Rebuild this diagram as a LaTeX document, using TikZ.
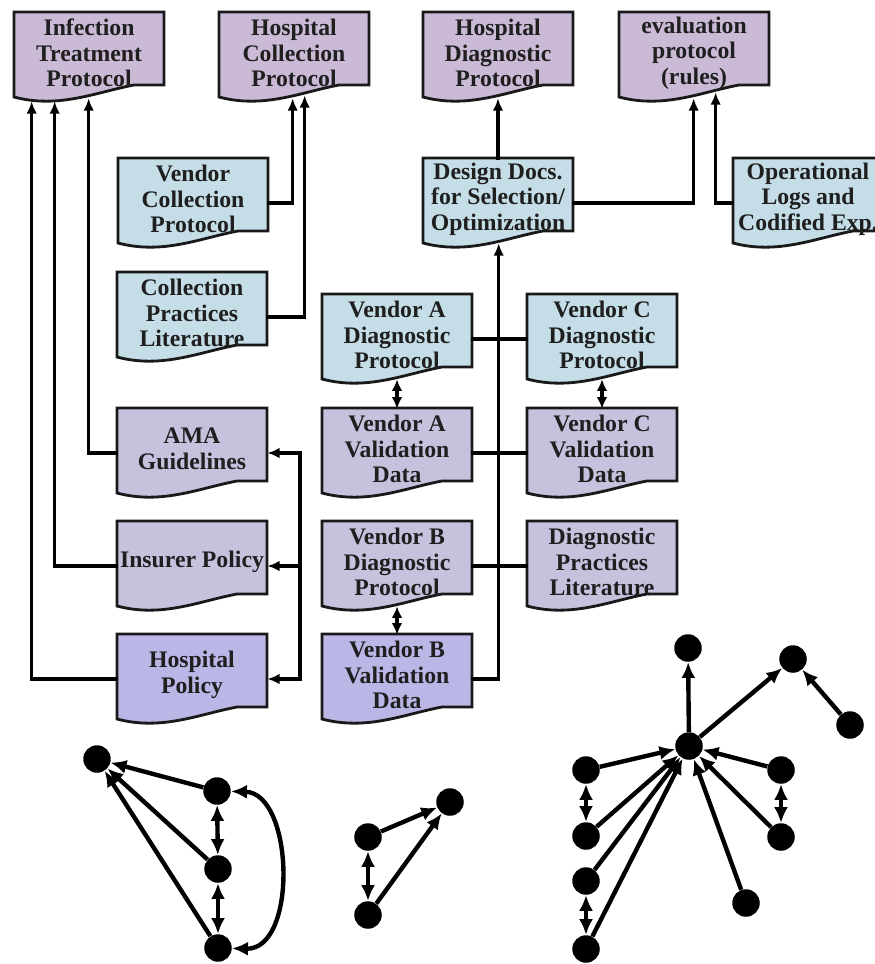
\documentclass[tikz,border=0pt]{standalone}
\usepackage{fontspec}
\setmainfont{Liberation Serif}
\usetikzlibrary{arrows.meta,calc}

\definecolor{cMauve}{RGB}{202,186,214}
\definecolor{cBlue}{RGB}{196,221,230}
\definecolor{cGray}{RGB}{198,194,222}
\definecolor{cLav}{RGB}{186,182,230}

\tikzset{
  px/.style={x=0.02cm,y=-0.02cm},
  docline/.style={draw=black!90, line width=1.6pt, line join=miter},
  doctext/.style={draw=none, minimum width=3cm, minimum height=1.6cm, inner sep=0pt,
    align=center, font=\bfseries\fontsize{13.5}{14.5}\selectfont, text=black!88},
  conn/.style={line width=2pt, line cap=rect},
  arr/.style={conn, -{Latex[length=7pt,width=6pt]}},
  darr/.style={line width=2pt, {Latex[length=6.5pt,width=6pt]}-{Latex[length=6.5pt,width=6pt]}},
  gnode/.style={circle, fill=black, minimum size=0.55cm, inner sep=0pt},
  gedge/.style={line width=2.5pt, -{Latex[length=9pt,width=8pt]}},
  gdbl/.style={line width=2.5pt, {Latex[length=9pt,width=8pt]}-{Latex[length=9pt,width=8pt]}},
}

% document symbol: #1 name, #2 left x, #3 top y, #4 fill, #5 text
\newcommand{\docbox}[5]{%
  \filldraw[docline, fill=#4] (#2,#3) -- ({#2+150},#3) -- ({#2+150},{#3+73}) -- ({#2+120},{#3+73})
    .. controls ({#2+82.5},{#3+80}) and ({#2+45},{#3+97}) .. (#2,{#3+85}) -- cycle;
  \node[doctext] (#1) at ({#2+75},{#3+41}) {#5};
}

\begin{document}
\begin{tikzpicture}[px]
\useasboundingbox (0,0) rectangle (875,964);

% documents
\docbox{ITP}{14}{12}{cMauve}{Infection\\Treatment\\Protocol}
\docbox{HCP}{219}{12}{cMauve}{Hospital\\Collection\\Protocol}
\docbox{HDP}{423}{12}{cMauve}{Hospital\\Diagnostic\\Protocol}
\docbox{EPR}{619}{12}{cMauve}{evaluation\\protocol\\(rules)}
\docbox{VCP}{118}{158}{cBlue}{Vendor\\Collection\\Protocol}
\docbox{DDS}{423}{158}{cBlue}{Design Docs.\\for Selection/\\Optimization}
\docbox{OLC}{733}{158}{cBlue}{Operational\\Logs and\\Codified Exp.}
\docbox{CPL}{117}{272}{cBlue}{Collection\\Practices\\Literature}
\docbox{VADP}{322}{294}{cBlue}{Vendor A\\Diagnostic\\Protocol}
\docbox{VCDP}{527}{294}{cBlue}{Vendor C\\Diagnostic\\Protocol}
\docbox{AMA}{117}{408}{cGray}{AMA\\Guidelines}
\docbox{VAVD}{322}{408}{cGray}{Vendor A\\Validation\\Data}
\docbox{VCVD}{527}{408}{cGray}{Vendor C\\Validation\\Data}
\docbox{INS}{117}{521}{cGray}{Insurer Policy}
\docbox{VBDP}{322}{521}{cGray}{Vendor B\\Diagnostic\\Protocol}
\docbox{DPL}{527}{521}{cGray}{Diagnostic\\Practices\\Literature}
\docbox{HPOL}{117}{634}{cLav}{Hospital\\Policy}
\docbox{VBVD}{322}{634}{cLav}{Vendor B\\Validation\\Data}

% inputs of the infection treatment protocol
\draw[arr] ([yshift=-0.8mm]HPOL.west) -| ($(ITP.south west)+(18,8)$);
\draw[arr] ([yshift=-0.8mm]INS.west) -| ($(ITP.south west)+(41,8)$);
\draw[arr] ([yshift=-0.8mm]AMA.west) -| ($(ITP.south west)+(75,5)$);

% inputs of the hospital collection protocol
\draw[arr] ([yshift=-0.8mm]VCP.east) -| ($(HCP.south west)+(74,5)$);
\draw[arr] ([yshift=-0.8mm]CPL.east) -| ($(HCP.south west)+(86,2)$);

% hospital diagnostic protocol and evaluation protocol
\draw[arr] (DDS.north) -- ($(HDP.south)+(0,5)$);
\draw[arr] ([yshift=-0.8mm]DDS.east) -| ($(EPR.south west)+(75,5)$);
\draw[arr] ([yshift=-0.8mm]OLC.west) -| ($(EPR.south west)+(97,-1)$);

% trunk feeding the design documents
\draw[arr] ([yshift=-0.8mm]VBVD.east) -| ($(DDS.south west)+(76,4)$);
\draw[conn] ([yshift=-0.8mm]VADP.east) -- ([yshift=-0.8mm]VCDP.west);
\draw[conn] ([yshift=-0.8mm]VAVD.east) -- ([yshift=-0.8mm]VCVD.west);
\draw[conn] ([yshift=-0.8mm]VBDP.east) -- ([yshift=-0.8mm]DPL.west);

% protocol / validation pairs
\draw[darr] ($(VADP.south)+(0,4)$) -- (VAVD.north);
\draw[darr] ($(VCDP.south)+(0,4)$) -- (VCVD.north);
\draw[darr] ($(VBDP.south)+(0,4)$) -- (VBVD.north);

% policy bus
\coordinate (bus) at (300,0);
\draw[conn] ([yshift=-0.8mm]AMA.east -| bus) -- ([yshift=-0.8mm]HPOL.east -| bus);
\draw[arr] ([yshift=-0.8mm]AMA.east -| bus) -- ([yshift=-0.8mm]AMA.east);
\draw[arr] ([yshift=-0.8mm]INS.east -| bus) -- ([yshift=-0.8mm]INS.east);
\draw[arr] ([yshift=-0.8mm]HPOL.east -| bus) -- ([yshift=-0.8mm]HPOL.east);

% graph 1
\node[gnode] (a1) at (97,759) {};
\node[gnode] (a2) at (217,791) {};
\node[gnode] (a3) at (218,869) {};
\node[gnode] (a4) at (218,948) {};
\draw[gedge] (a2) -- (a1);
\draw[gedge] (a3) -- (a1);
\draw[gedge] (a4) -- (a1);
\draw[gdbl] (a2) -- (a3);
\draw[gdbl] (a3) -- (a4);
\draw[gdbl] (a2) .. controls (294,793) and (298,950) .. (a4);

% graph 2
\node[gnode] (b1) at (368,837) {};
\node[gnode] (b2) at (368,915) {};
\node[gnode] (b3) at (450,802) {};
\draw[gedge] (b1) -- (b3);
\draw[gedge] (b2) -- (b3);
\draw[gdbl] (b1) -- (b2);

% graph 3
\node[gnode] (hub) at (689,746) {};
\node[gnode] (ct) at (688,648) {};
\node[gnode] (ctr) at (793,659) {};
\node[gnode] (cfr) at (850,725) {};
\node[gnode] (cl1) at (586,770) {};
\node[gnode] (cl2) at (586,836) {};
\node[gnode] (cl3) at (586,881) {};
\node[gnode] (cl4) at (586,949) {};
\node[gnode] (cr1) at (781,770) {};
\node[gnode] (cr2) at (781,837) {};
\node[gnode] (cb) at (746,903) {};
\draw[gedge] (hub) -- (ct);
\draw[gedge] (hub) -- (ctr);
\draw[gedge] (cfr) -- (ctr);
\foreach \s in {cl1,cl2,cl3,cl4,cr1,cr2,cb}
  \draw[gedge] (\s) -- (hub);
\draw[gdbl] (cl1) -- (cl2);
\draw[gdbl] (cl3) -- (cl4);
\draw[gdbl] (cr1) -- (cr2);
\end{tikzpicture}
\end{document}
